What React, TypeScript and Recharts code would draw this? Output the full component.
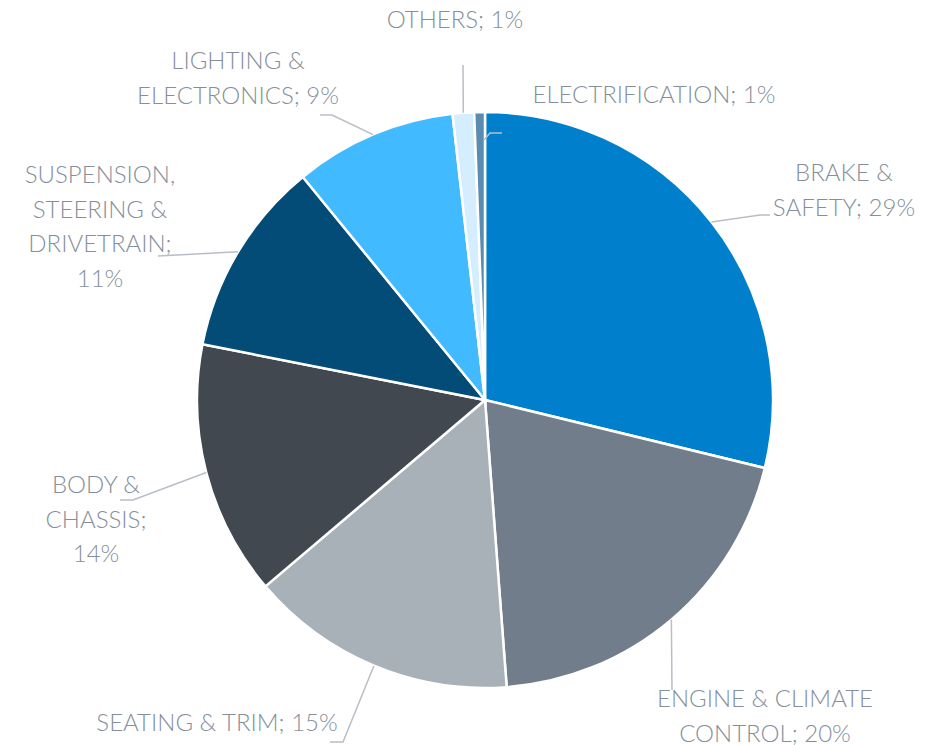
import { PieChart, Pie, Cell } from 'recharts'

// segment share of total (%), clockwise from 12 o'clock
const categories = [
  'BRAKE & SAFETY',
  'ENGINE & CLIMATE CONTROL',
  'SEATING & TRIM',
  'BODY & CHASSIS',
  'SUSPENSION, STEERING & DRIVETRAIN',
  'LIGHTING & ELECTRONICS',
  'OTHERS',
  'ELECTRIFICATION',
]
const shares = [28.8, 20.0, 15.0, 14.3, 11.0, 9.1, 1.2, 0.6]
const colors = ['#0080CC', '#717D8A', '#A8B0B8', '#424850', '#044C78', '#42BAFF', '#D5EEFF', '#5A8BB0']

const data = categories.map((name, i) => ({ name, value: shares[i] }))

// label placement relative to pie centre (Excel "best fit" positions, hand tuned)
// x = text centre, y = first baseline, breaks = word index where a new line starts
// leader = bend points after the slice edge point
const LABEL_LAYOUT: { x: number; y: number; breaks: number[]; leader: number[][]; fromEdge?: boolean }[] = [
  { x: 359, y: -219, breaks: [2], leader: [[275, -185], [285, -185]] },
  { x: 280, y: 307, breaks: [3], leader: [[187, 290]] },
  { x: -268, y: 331, breaks: [], leader: [[-142, 342], [-155, 342]] },
  { x: -389, y: 93, breaks: [2, 3], leader: [[-352, 100], [-365, 100]] },
  { x: -385, y: -217, breaks: [1, 3, 4], leader: [[-327, -144]] },
  { x: -247, y: -331, breaks: [2], leader: [[-153, -285], [-165, -285]] },
  { x: -30, y: -372, breaks: [], leader: [[-22, -335]] },
  { x: 169, y: -297, breaks: [], leader: [[-1, -260], [5, -267], [17, -267]], fromEdge: false },
]

const TEXT_COLOR = '#858F9B'
const LINE_COLOR = '#B8BEC6'
const FONT = 'Lato, "Open Sans", sans-serif'
const LINE_H = 34.5
const RAD = Math.PI / 180

const renderLabel = (props: any) => {
  const { cx, cy, midAngle, outerRadius, index, percent, name } = props
  const layout = LABEL_LAYOUT[index]
  const words = `${name}; ${Math.round(percent * 100)}%`.split(' ')
  const lines: string[] = []
  let start = 0
  for (const b of [...layout.breaks, words.length]) {
    lines.push(words.slice(start, b).join(' '))
    start = b
  }
  const ex = cx + Math.cos(-midAngle * RAD) * outerRadius
  const ey = cy + Math.sin(-midAngle * RAD) * outerRadius
  const pts = layout.leader.map(([dx, dy]) => [cx + dx, cy + dy])
  if (layout.fromEdge !== false) pts.unshift([ex, ey])
  return (
    <g key={`lbl-${index}`}>
      <polyline
        points={pts.map(p => p.join(',')).join(' ')}
        fill="none"
        stroke={LINE_COLOR}
        strokeWidth={1.5}
      />
      <text
        x={cx + layout.x}
        y={cy + layout.y}
        textAnchor="middle"
        fill={TEXT_COLOR}
        fontFamily={FONT}
        fontWeight={300}
        fontSize={24}
      >
        {lines.map((l, i) => (
          <tspan key={i} x={cx + layout.x} dy={i === 0 ? 0 : LINE_H}>{l}</tspan>
        ))}
      </text>
    </g>
  )
}

export default function App() {
  return (
    <div style={{ position: 'absolute', left: 0, top: 0, width: 941, height: 745, background: '#fff' }}>
      <PieChart width={941} height={745} margin={{ top: 0, right: 0, bottom: 0, left: 0 }}>
        <Pie
          data={data}
          dataKey="value"
          nameKey="name"
          cx={485}
          cy={400}
          outerRadius={288}
          startAngle={90}
          endAngle={-270}
          stroke="#fff"
          strokeWidth={2.5}
          label={renderLabel}
          labelLine={false}
          isAnimationActive={false}
        >
          {data.map((d, i) => (
            <Cell key={d.name} fill={colors[i]} />
          ))}
        </Pie>
      </PieChart>
    </div>
  )
}
